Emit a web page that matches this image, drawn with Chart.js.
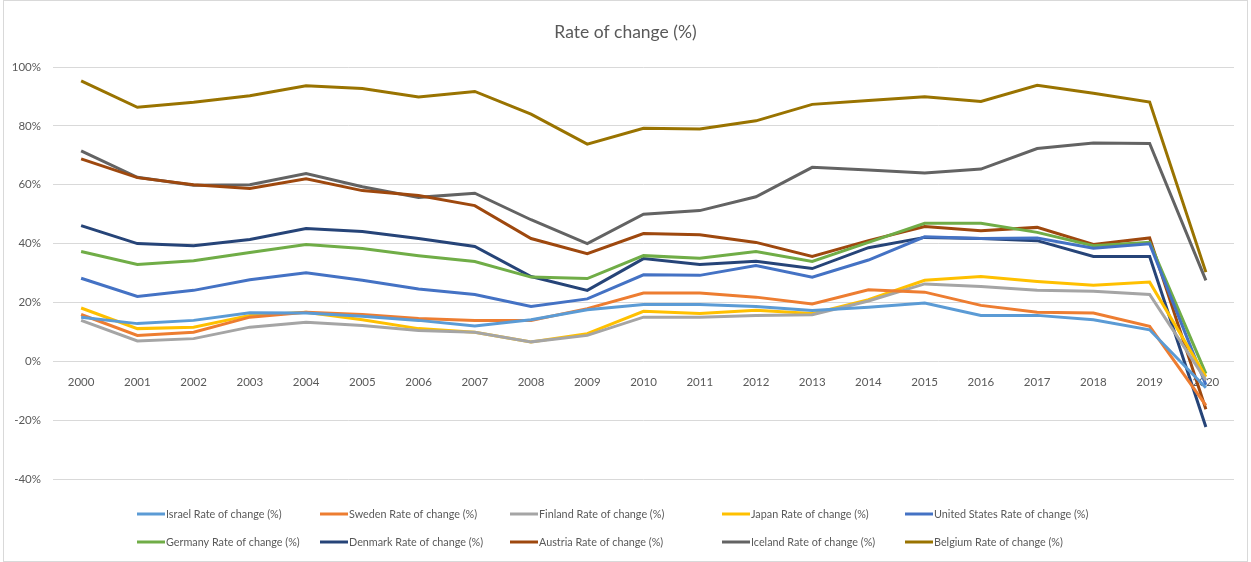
<!DOCTYPE html>
<html>
<head>
<meta charset="utf-8">
<script src="https://cdn.jsdelivr.net/npm/chart.js@4/dist/chart.umd.min.js"></script>
<style>
  html, body { margin: 0; padding: 0; background: #ffffff; }
  #wrap { width: 1251px; height: 562px; }
</style>
</head>
<body>
<div id="wrap"><canvas id="c" width="1251" height="562"></canvas></div>
<script>
// Year categories
const years = ['2000','2001','2002','2003','2004','2005','2006','2007','2008','2009',
               '2010','2011','2012','2013','2014','2015','2016','2017','2018','2019','2020'];

// Rate of change (%) per country
const israel  = [15.0, 12.8, 13.9, 16.5, 16.4, 15.3, 13.9, 12.0, 14.1, 17.5, 19.3, 19.3, 18.6, 17.3, 18.4, 19.8, 15.6, 15.6, 14.1, 10.7, -9.0];
const sweden  = [15.9, 8.8, 9.9, 15.0, 16.7, 15.9, 14.5, 13.9, 13.9, 17.9, 23.2, 23.2, 21.8, 19.5, 24.3, 23.5, 19.0, 16.7, 16.4, 11.9, -15.0];
const finland = [13.9, 6.9, 7.7, 11.6, 13.3, 12.2, 10.5, 9.9, 6.6, 8.8, 15.0, 15.0, 15.6, 15.8, 20.5, 26.3, 25.4, 24.1, 23.8, 22.7, -6.4];
const japan   = [18.1, 11.1, 11.6, 15.6, 16.7, 14.1, 11.1, 9.9, 6.6, 9.4, 17.0, 16.2, 17.3, 16.2, 20.9, 27.5, 28.8, 27.1, 25.8, 26.9, -5.3];
const unitedStates = [28.2, 22.0, 24.1, 27.7, 30.1, 27.5, 24.6, 22.7, 18.6, 21.2, 29.4, 29.2, 32.5, 28.6, 34.4, 42.3, 41.7, 41.9, 38.4, 39.9, -8.0];
const germany = [37.3, 32.9, 34.2, 37.0, 39.7, 38.3, 35.9, 33.9, 28.6, 28.1, 35.9, 35.0, 37.3, 33.9, 40.4, 46.9, 46.9, 43.8, 39.3, 40.4, -4.2];
const denmark = [46.1, 40.0, 39.3, 41.4, 45.1, 44.1, 41.7, 39.0, 28.8, 24.1, 34.9, 32.9, 34.0, 31.5, 38.6, 42.1, 41.7, 41.0, 35.6, 35.6, -22.3];
const austria = [68.8, 62.4, 60.0, 58.7, 62.0, 58.0, 56.3, 52.9, 41.7, 36.6, 43.4, 43.0, 40.4, 35.6, 41.0, 45.8, 44.4, 45.5, 39.7, 41.9, -16.3];
const iceland = [71.5, 62.5, 59.8, 60.0, 63.8, 59.3, 55.7, 57.1, 48.1, 40.0, 50.0, 51.2, 55.9, 65.9, 65.0, 64.0, 65.3, 72.3, 74.2, 74.0, 27.5];
const belgium = [95.3, 86.3, 88.0, 90.2, 93.6, 92.7, 89.8, 91.7, 84.0, 73.8, 79.2, 78.9, 81.7, 87.3, 88.6, 89.9, 88.3, 93.8, 91.1, 88.1, 30.3];

// Y axis range
const yMin = -40, yMax = 100, yStep = 20;

const series = [
  { label: 'Israel Rate of change (%)',        data: israel,       color: '#5B9BD5' },
  { label: 'Sweden Rate of change (%)',        data: sweden,       color: '#ED7D31' },
  { label: 'Finland Rate of change (%)',       data: finland,      color: '#A5A5A5' },
  { label: 'Japan Rate of change (%)',         data: japan,        color: '#FFC000' },
  { label: 'United States Rate of change (%)', data: unitedStates, color: '#4472C4' },
  { label: 'Germany Rate of change (%)',       data: germany,      color: '#70AD47' },
  { label: 'Denmark Rate of change (%)',       data: denmark,      color: '#264478' },
  { label: 'Austria Rate of change (%)',       data: austria,      color: '#9E480E' },
  { label: 'Iceland Rate of change (%)',       data: iceland,      color: '#636363' },
  { label: 'Belgium Rate of change (%)',       data: belgium,      color: '#997300' }
];

const FONT = 'Lato, "Open Sans", sans-serif';
const TEXT = '#595959';

// Outer frame around the chart, and the title centred on the full canvas
const framePlugin = {
  id: 'frame',
  afterLayout(chart) {
    if (chart.titleBlock) {
      chart.titleBlock.left = 0;
      chart.titleBlock.right = chart.width;
      chart.titleBlock.width = chart.width;
    }
  },
  beforeDraw(chart) {
    const ctx = chart.ctx;
    ctx.save();
    ctx.fillStyle = '#ffffff';
    ctx.fillRect(0, 0, chart.width, chart.height);
    ctx.strokeStyle = '#d9d9d9';
    ctx.lineWidth = 1;
    ctx.strokeRect(3.5, 0.5, chart.width - 7, chart.height - 1);
    ctx.restore();
  }
};

// Two-row legend laid out in fixed columns
const gridLegend = {
  id: 'gridLegend',
  afterDraw(chart) {
    const ctx = chart.ctx;
    const cols = [137, 320, 510, 722, 905];
    const rows = [514, 542];
    ctx.save();
    ctx.font = '10.8px ' + FONT;
    ctx.textBaseline = 'middle';
    chart.data.datasets.forEach((ds, i) => {
      const x = cols[i % 5];
      const y = rows[Math.floor(i / 5)];
      ctx.strokeStyle = ds.borderColor;
      ctx.lineWidth = 3;
      ctx.beginPath();
      ctx.moveTo(x, y);
      ctx.lineTo(x + 28, y);
      ctx.stroke();
      ctx.fillStyle = TEXT;
      ctx.fillText(ds.label, x + 29, y + 0.5);
    });
    ctx.restore();
  }
};

new Chart(document.getElementById('c'), {
  type: 'line',
  data: {
    labels: years,
    datasets: series.map(s => ({
      label: s.label,
      data: s.data,
      borderColor: s.color,
      backgroundColor: s.color,
      borderWidth: 3,
      pointRadius: 0,
      pointHoverRadius: 0,
      tension: 0,
      fill: false
    }))
  },
  options: {
    responsive: false,
    animation: false,
    devicePixelRatio: 1,
    layout: { padding: { left: 0, right: 17, top: 0, bottom: 83 } },
    plugins: {
      legend: { display: false },
      tooltip: { enabled: false },
      title: {
        display: true,
        text: 'Rate of change (%)',
        color: TEXT,
        font: { family: FONT, size: 17.5, weight: 'normal' },
        padding: { top: 22, bottom: 24 }
      }
    },
    scales: {
      x: {
        position: { y: 0 },
        offset: true,
        grid: { display: false, drawTicks: false },
        border: { display: false },
        ticks: {
          color: TEXT,
          font: { family: FONT, size: 11.5 },
          padding: 14,
          maxRotation: 0,
          autoSkip: false
        }
      },
      y: {
        min: yMin,
        max: yMax,
        afterFit(scale) { scale.width = 53; },
        grid: { color: '#d9d9d9', lineWidth: 1, drawTicks: false },
        border: { display: false },
        ticks: {
          stepSize: yStep,
          color: TEXT,
          padding: 12,
          font: { family: FONT, size: 11.5 },
          callback: v => v + '%'
        }
      }
    }
  },
  plugins: [framePlugin, gridLegend]
});
</script>
</body>
</html>
